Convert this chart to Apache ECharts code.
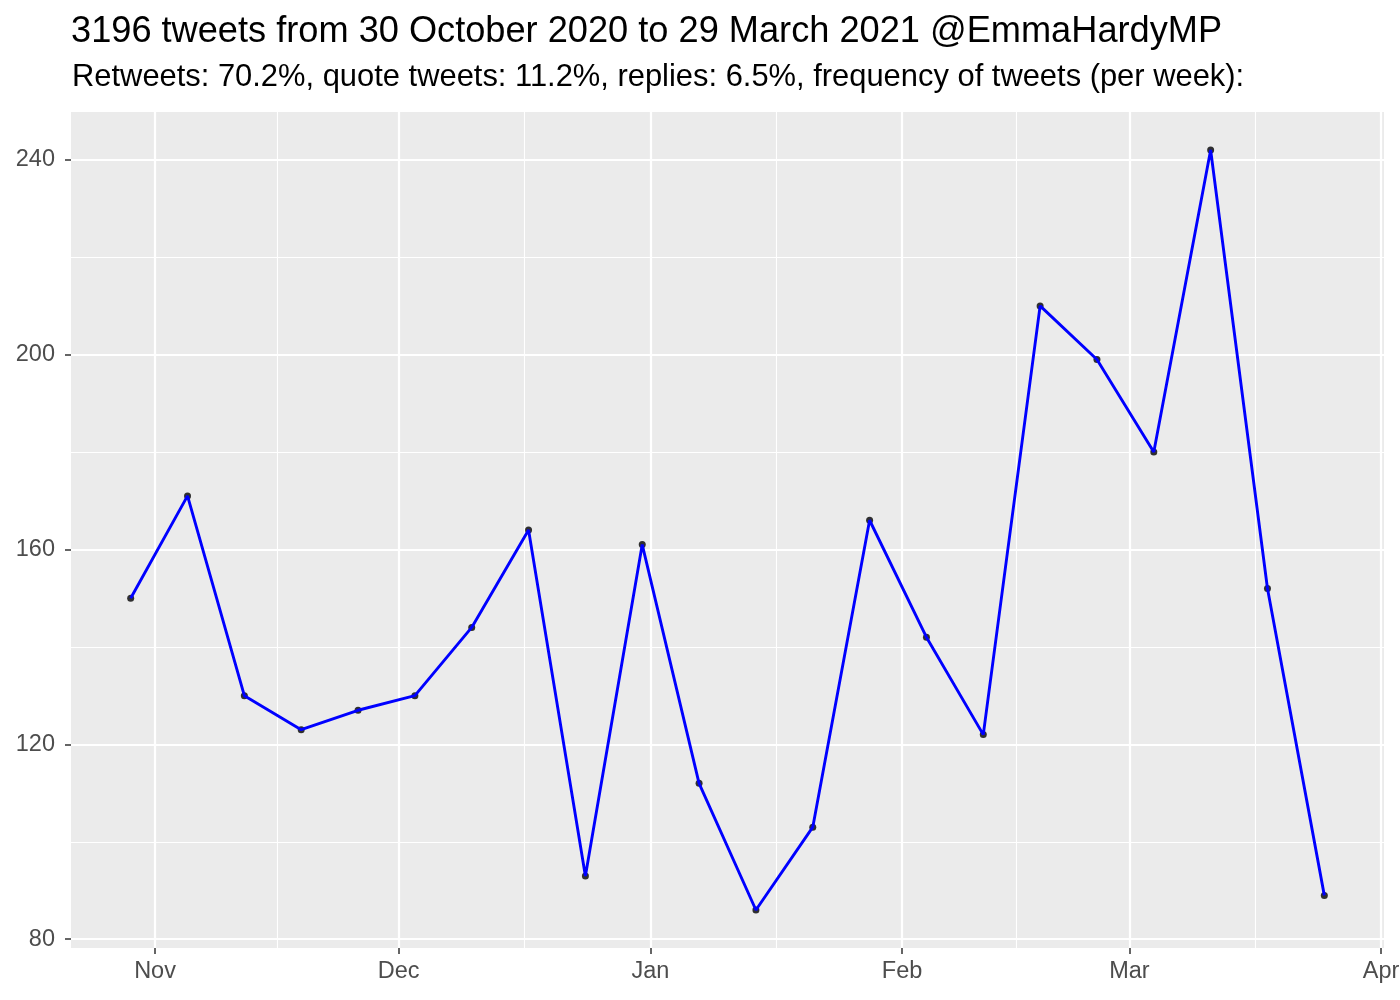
<!DOCTYPE html>
<html>
<head>
<meta charset="utf-8">
<script src="https://cdn.jsdelivr.net/npm/echarts@6/dist/echarts.min.js"></script>
<style>
  html, body { margin: 0; padding: 0; background: #fff; }
  #chart { width: 1400px; height: 1000px; }
</style>
</head>
<body>
<div id="chart"></div>
<script>
// weekly tweet counts, week starting on these days
const weekStarts = ['2020-10-29', '2020-11-05', '2020-11-12', '2020-11-19', '2020-11-26',
  '2020-12-03', '2020-12-10', '2020-12-17', '2020-12-24', '2020-12-31', '2021-01-07',
  '2021-01-14', '2021-01-21', '2021-01-28', '2021-02-04', '2021-02-11', '2021-02-18',
  '2021-02-25', '2021-03-04', '2021-03-11', '2021-03-18', '2021-03-25']
const tweets = [150, 171, 130, 123, 127, 130, 144, 164, 93, 161, 112, 86, 103, 166, 142,
  122, 210, 199, 180, 242, 152, 89]

const monthTicks = ['2020-11-01', '2020-12-01', '2021-01-01', '2021-02-01', '2021-03-01', '2021-04-01']
const monthNames = ['Jan', 'Feb', 'Mar', 'Apr', 'May', 'Jun', 'Jul', 'Aug', 'Sep', 'Oct', 'Nov', 'Dec']
const minorMonthTicks = ['2020-11-16T00:00:00Z', '2020-12-16T12:00:00Z', '2021-01-16T12:00:00Z',
  '2021-02-15T00:00:00Z', '2021-03-16T12:00:00Z']
const yTicks = [80, 120, 160, 200, 240]
const yMinorTicks = [100, 140, 180, 220]

const titleText = '3196 tweets from 30 October 2020 to 29 March 2021 @EmmaHardyMP'
const subtitleText = 'Retweets: 70.2%, quote tweets: 11.2%, replies: 6.5%, frequency of tweets (per week):'

const ts = (s) => Date.parse(s.length === 10 ? s + 'T00:00:00Z' : s)

// ggplot style 5% padding on both axes
const xs = weekStarts.map(ts)
const xPad = (xs[xs.length - 1] - xs[0]) * 0.05
const xMin = xs[0] - xPad
const xMax = xs[xs.length - 1] + xPad
const yLo = Math.min(...tweets), yHi = Math.max(...tweets)
const yPad = (yHi - yLo) * 0.05

const points = xs.map((x, i) => [x, tweets[i]])

const font = 'Liberation Sans, Arial, sans-serif'
const chart = echarts.init(document.getElementById('chart'), null, { renderer: 'canvas' })

chart.setOption({
  animation: false,
  title: [
    { text: titleText, left: 66, top: 9,
      textStyle: { fontFamily: font, fontSize: 36.2, fontWeight: 'normal', color: '#000' } },
    { text: subtitleText, left: 67, top: 57,
      textStyle: { fontFamily: font, fontSize: 30.9, fontWeight: 'normal', color: '#000' } }
  ],
  grid: {
    left: 71, right: 16, top: 112, bottom: 52,
    outerBoundsMode: 'none',
    show: true, backgroundColor: '#EBEBEB', borderWidth: 0
  },
  xAxis: [
    {
      type: 'value', min: xMin, max: xMax, scale: true,
      axisLine: { show: false },
      axisTick: { show: true, length: 6, lineStyle: { color: '#333333', width: 1.5 },
        customValues: monthTicks.map(ts) },
      axisLabel: {
        customValues: monthTicks.map(ts), margin: 12, hideOverlap: false,
        fontFamily: font, fontSize: 23.5, color: '#4D4D4D',
        formatter: (v) => monthNames[new Date(v).getUTCMonth()]
      },
      splitLine: { show: true, lineStyle: { color: '#fff', width: 2.2 } }
    },
    {
      type: 'value', min: xMin, max: xMax, scale: true, position: 'bottom',
      axisLine: { show: false },
      axisTick: { show: false, customValues: minorMonthTicks.map(ts) },
      axisLabel: { show: false, customValues: minorMonthTicks.map(ts) },
      splitLine: { show: true, lineStyle: { color: '#fff', width: 1.1 } }
    }
  ],
  yAxis: [
    {
      type: 'value', min: yLo - yPad, max: yHi + yPad,
      axisLine: { show: false },
      axisTick: { show: true, length: 6, lineStyle: { color: '#333333', width: 1.5 },
        customValues: yTicks },
      axisLabel: { customValues: yTicks, margin: 16,
        fontFamily: font, fontSize: 23.5, color: '#4D4D4D' },
      splitLine: { show: true, lineStyle: { color: '#fff', width: 2.2 } }
    },
    {
      type: 'value', min: yLo - yPad, max: yHi + yPad, position: 'left',
      axisLine: { show: false },
      axisTick: { show: false, customValues: yMinorTicks },
      axisLabel: { show: false, customValues: yMinorTicks },
      splitLine: { show: true, lineStyle: { color: '#fff', width: 1.1 } }
    }
  ],
  series: [
    {
      type: 'scatter', data: points, symbol: 'circle', symbolSize: 7,
      itemStyle: { color: '#000' }, z: 2, silent: true
    },
    {
      type: 'line', data: points, showSymbol: false, z: 3, silent: true,
      lineStyle: { color: '#0000FF', width: 2.9 }
    }
  ]
})
</script>
</body>
</html>
